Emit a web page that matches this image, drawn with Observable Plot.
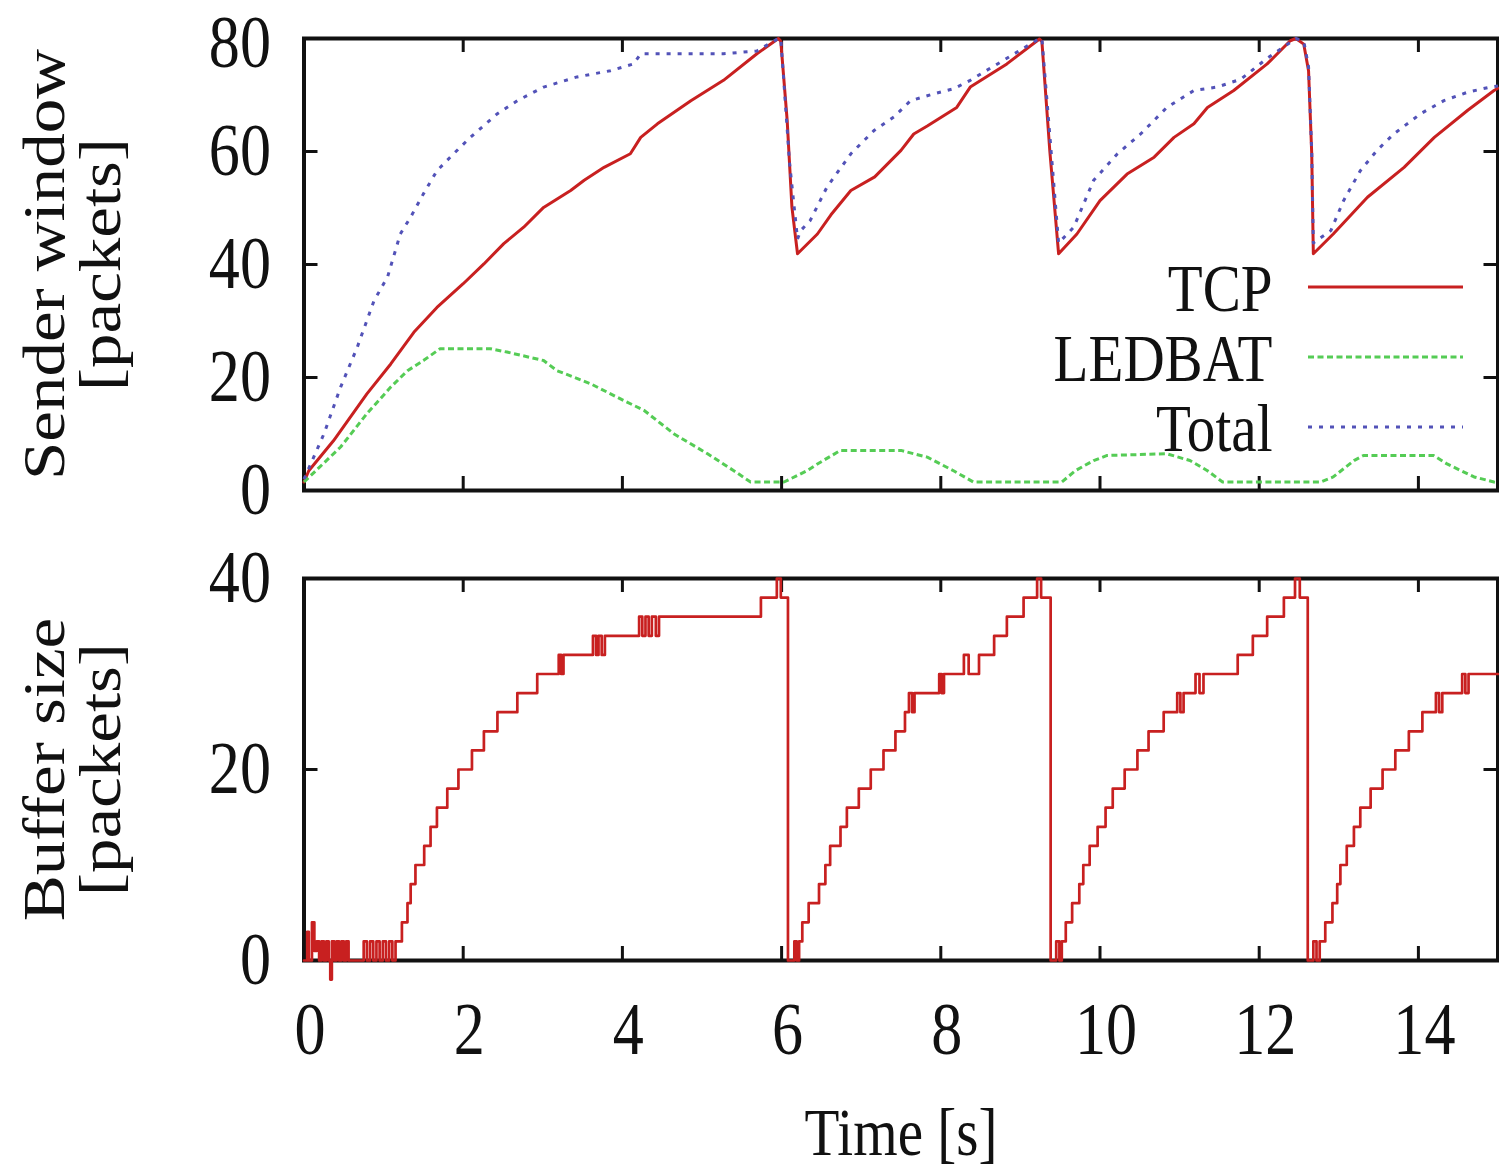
<!DOCTYPE html>
<html><head><meta charset="utf-8">
<script src="https://cdn.jsdelivr.net/npm/d3@7"></script>
<script src="https://cdn.jsdelivr.net/npm/@observablehq/plot@0.6"></script>
<style>body{margin:0;background:#fff} #chart svg{display:block}</style>
</head><body><div id="chart"></div>
<script>
// ---------- data ----------
const xTickValues = [0, 2, 4, 6, 8, 10, 12, 14];
const windowTicks = [0, 20, 40, 60, 80];
const bufferTicks = [0, 20, 40];
const seriesNames = ["TCP", "LEDBAT", "Total"];

const tcpT = [0, 0.06, 0.37, 0.79, 1.09, 1.38, 1.67, 2.0, 2.26, 2.51, 2.76, 3.01, 3.35, 3.52, 3.77, 4.10, 4.23, 4.44, 4.86, 5.27, 5.69, 5.96, 5.99, 6.07, 6.13, 6.2, 6.45, 6.62, 6.87, 7.17, 7.5, 7.66, 7.83, 8.2, 8.37, 8.83, 9.24, 9.27, 9.37, 9.48, 9.71, 10.0, 10.34, 10.68, 10.93, 11.18, 11.35, 11.68, 12.1, 12.39, 12.46, 12.56, 12.62, 12.66, 12.68, 12.93, 13.36, 13.82, 14.2, 14.62, 14.95, 15];
const tcpV = [1.5, 3.5, 8.8, 17.1, 22.4, 28.0, 32.4, 36.6, 40.1, 43.7, 46.6, 50.1, 53.1, 54.9, 57.2, 59.6, 62.5, 64.9, 69.0, 72.6, 77.3, 80, 79.5, 65.5, 50.1, 41.9, 45.4, 48.8, 53.1, 55.5, 60.2, 63.1, 64.5, 67.8, 71.4, 75.5, 79.9, 79.5, 60, 41.9, 45.4, 51.3, 56.0, 59.0, 62.5, 64.9, 67.8, 70.8, 75.5, 79.6, 80, 79, 74.3, 59.6, 41.9, 45.4, 51.9, 57.2, 62.5, 67.3, 70.8, 71.2];

const ledT = [0, 0.46, 0.79, 1.09, 1.3, 1.5, 1.71, 2.34, 2.55, 3.01, 3.18, 3.6, 4.02, 4.27, 4.65, 5.07, 5.4, 5.61, 6.03, 6.32, 6.45, 6.74, 7.5, 7.66, 7.83, 8.16, 8.41, 9.52, 9.69, 9.92, 10.09, 10.84, 11.13, 11.35, 11.54, 12.77, 12.93, 13.19, 13.31, 14.19, 14.36, 14.7, 14.95, 15];
const ledV = [1.5, 7.7, 13.6, 18.3, 21.2, 23, 25.1, 25.1, 24.5, 23, 21.2, 18.9, 15.9, 14.2, 10, 6.5, 3.5, 1.5, 1.5, 3.5, 4.7, 7.1, 7.1, 6.5, 5.9, 3.5, 1.5, 1.5, 3.5, 5.3, 6.2, 6.5, 5.3, 3.5, 1.5, 1.5, 2.4, 5.3, 6.2, 6.2, 4.7, 2.4, 1.5, 1.4];

const totT = [0, 0.25, 0.46, 0.67, 0.88, 1.05, 1.21, 1.34, 1.5, 1.67, 1.88, 2.09, 2.43, 2.68, 3.01, 3.43, 3.85, 4.14, 4.23, 5.27, 5.69, 5.96, 5.99, 6.1, 6.2, 6.24, 6.36, 6.57, 6.87, 7.16, 7.41, 7.62, 7.91, 8.16, 8.37, 8.83, 9.24, 9.27, 9.48, 9.67, 9.92, 10.22, 10.51, 10.84, 11.18, 11.47, 11.77, 12.1, 12.46, 12.56, 12.62, 12.66, 12.68, 12.9, 13.06, 13.27, 13.48, 13.69, 14.03, 14.32, 14.62, 14.9, 15];
const totV = [2, 10, 18.3, 25.4, 33.6, 37.8, 45.4, 48.4, 52.5, 56.6, 59.6, 62.5, 66.7, 69, 71.4, 73.2, 74.3, 75.5, 77.3, 77.3, 77.8, 80, 80, 58, 44.5, 46, 47.8, 53.7, 59.6, 63.7, 66.1, 69, 70.2, 71.1, 72.6, 76.5, 80, 80, 43.8, 46.6, 54.9, 59.6, 63.1, 67.8, 70.8, 71.4, 72.8, 76.5, 80, 79.5, 75, 60, 43.8, 46, 51.3, 56.6, 60.2, 63.1, 66.7, 69, 70.5, 71.4, 71.6];

const bufT = [0, 0.04, 0.06, 0.10, 0.13, 0.16, 0.19, 0.22, 0.25, 0.28, 0.31, 0.33, 0.35, 0.38, 0.41, 0.44, 0.47, 0.50, 0.53, 0.56, 0.58,
  0.75, 0.79, 0.83, 0.87, 0.91, 0.95, 0.99, 1.03, 1.07, 1.11, 1.15, 1.19,
  1.23, 1.30, 1.34, 1.40, 1.51, 1.59, 1.67, 1.80, 1.94, 2.11, 2.26, 2.43, 2.68, 2.93, 3.20, 3.23, 3.26, 3.63, 3.67, 3.70, 3.74, 3.78, 4.21, 4.25, 4.29, 4.33, 4.37, 4.42, 4.46, 5.74, 5.94, 5.99, 6.08,
  6.16, 6.19, 6.22, 6.26, 6.34, 6.47, 6.55, 6.61, 6.74, 6.82, 6.97, 7.12, 7.28, 7.43, 7.55, 7.60, 7.64, 7.67, 7.98, 8.01, 8.04, 8.29, 8.35, 8.48, 8.67, 8.83, 9.04, 9.21, 9.26, 9.38,
  9.45, 9.49, 9.52, 9.57, 9.65, 9.74, 9.79, 9.87, 9.97, 10.07, 10.16, 10.31, 10.47, 10.61, 10.80, 10.97, 11.01, 11.05, 11.20, 11.25, 11.30, 11.73, 11.92, 12.10, 12.31, 12.45, 12.51, 12.61,
  12.68, 12.72, 12.76, 12.83, 12.92, 12.98, 13.02, 13.10, 13.19, 13.27, 13.40, 13.55, 13.71, 13.88, 14.05, 14.22, 14.26, 14.30, 14.55, 14.59, 14.63, 15];
const bufV = [0, 3, 0, 4, 1, 2, 0, 2, 0, 2, 0, -2, 2, 0, 2, 0, 2, 0, 2, 0, 0,
  2, 0, 2, 0, 2, 0, 2, 0, 2, 0, 2, 2,
  4, 6, 8, 10, 12, 14, 16, 18, 20, 22, 24, 26, 28, 30, 32, 30, 32, 34, 32, 34, 32, 34, 36, 34, 36, 34, 36, 34, 36, 38, 40, 38, 0,
  2, 0, 2, 4, 6, 8, 10, 12, 14, 16, 18, 20, 22, 24, 26, 28, 26, 28, 30, 28, 30, 32, 30, 32, 34, 36, 38, 40, 38, 0,
  2, 0, 2, 4, 6, 8, 10, 12, 14, 16, 18, 20, 22, 24, 26, 28, 26, 28, 30, 28, 30, 32, 34, 36, 38, 40, 38, 0,
  2, 0, 2, 4, 6, 8, 10, 12, 14, 16, 18, 20, 22, 24, 26, 28, 26, 28, 30, 28, 30, 30];

// ---------- styling ----------
const FONT = "'Liberation Serif', 'Times New Roman', serif";
const RED = "#c82020", GREEN = "#55cc55", BLUE = "#5252b8";
const seriesColors = [RED, GREEN, BLUE];
const seriesDash = [null, "6,3.5", "4,7"];
const W = 1499, ML = 303.5, MR = 1.5, TL = 14, FW = W - ML - MR;
const INK = "#111";

const rows = (T, V) => T.map((t, i) => ({t, v: V[i]}));

function edgeTicks(yt, fh) {
  const o = {stroke: INK, strokeWidth: 3};
  return [
    Plot.tickX(xTickValues, {x: d => d, insetBottom: fh - TL, ...o}),
    Plot.tickX(xTickValues, {x: d => d, insetTop: fh - TL, ...o}),
    Plot.tickY(yt, {y: d => d, insetRight: FW - TL, ...o}),
    Plot.tickY(yt, {y: d => d, insetLeft: FW - TL, ...o})
  ];
}
function yTitle(l1, l2) {
  const o = {frameAnchor: "left", rotate: -90, lineAnchor: "bottom", textAnchor: "middle", fontSize: 69, fill: INK};
  return [
    Plot.text([l1], {text: d => d, dx: 63 - ML, ...o}),
    Plot.text([l2], {text: d => d, dx: 119 - ML, ...o})
  ];
}
function legendMark(index, scales, values, dims) {
  const g = d3.create("svg:g");
  const right = dims.width - dims.marginRight;
  seriesNames.forEach((name, i) => {
    const ly = dims.marginTop + 249 + i * 70;
    const ln = g.append("line").attr("x1", right - 189.5).attr("x2", right - 34.5)
      .attr("y1", ly).attr("y2", ly).attr("stroke", seriesColors[i]).attr("stroke-width", 3);
    if (seriesDash[i]) ln.attr("stroke-dasharray", seriesDash[i]);
    g.append("text").attr("transform", `translate(${right - 225},${ly + 24})`)
      .attr("text-anchor", "end").attr("font-size", 68).attr("fill", INK).text(name);
  });
  return g.node();
}

const H1 = 530, MT1 = 38, MB1 = 40, FH1 = H1 - MT1 - MB1;
const topMax = windowTicks[windowTicks.length - 1];
const p1 = Plot.plot({
  width: W, height: H1, marginLeft: ML, marginRight: MR, marginTop: MT1, marginBottom: MB1,
  style: {fontFamily: FONT, fontSize: "74px", background: "white", color: INK},
  x: {domain: [0, 15], axis: null},
  y: {domain: [0, 80]},
  marks: [
    Plot.frame({stroke: INK, strokeWidth: 4}),
    ...edgeTicks(windowTicks, FH1),
    Plot.line(rows(tcpT, tcpV), {x: "t", y: "v", stroke: RED, strokeWidth: 3}),
    Plot.line(rows(ledT, ledV), {x: "t", y: "v", stroke: GREEN, strokeWidth: 3, strokeDasharray: seriesDash[1], strokeLinecap: "butt"}),
    Plot.line(rows(totT, totV), {x: "t", y: "v", stroke: BLUE, strokeWidth: 3, strokeDasharray: seriesDash[2], strokeLinecap: "butt"}),
    Plot.axisY(windowTicks.filter(d => d < topMax), {tickSize: 0, tickPadding: 33, label: null, fontSize: 74}),
    Plot.axisY([topMax], {tickSize: 0, tickPadding: 33, label: null, fontSize: 74, dy: 5}),
    ...yTitle("Sender window", "[packets]"),
    legendMark
  ]
});

const H2 = 1171 - H1, MT2 = 48, MB2 = 211, FH2 = H2 - MT2 - MB2;
const p2 = Plot.plot({
  width: W, height: H2, marginLeft: ML, marginRight: MR, marginTop: MT2, marginBottom: MB2,
  style: {fontFamily: FONT, fontSize: "74px", background: "white", color: INK},
  x: {domain: [0, 15]},
  y: {domain: [0, 40]},
  marks: [
    Plot.frame({stroke: INK, strokeWidth: 4}),
    ...edgeTicks(bufferTicks, FH2),
    Plot.line(rows(bufT, bufV), {x: "t", y: "v", curve: "step-after", stroke: RED, strokeWidth: 2.7}),
    Plot.axisY(bufferTicks, {tickSize: 0, tickPadding: 33, label: null, fontSize: 74}),
    Plot.axisX(xTickValues, {tickSize: 0, tickPadding: 41, dx: 6, label: null, fontSize: 74}),
    Plot.text(["Time [s]"], {text: d => d, frameAnchor: "bottom", dy: 194, lineAnchor: "bottom", fontSize: 68, fill: INK}),
    ...yTitle("Buffer size", "[packets]")
  ]
});

function squeeze(svg) {
  d3.select(svg).selectAll("text").each(function () {
    const el = d3.select(this);
    const tr = el.attr("transform") || "";
    if (tr.includes("rotate")) el.attr("transform", tr + " scale(1,0.87)");
    else el.attr("transform", tr + " scale(0.84,1)");
  });
}
squeeze(p1); squeeze(p2);
document.getElementById("chart").append(p1, p2);
</script>
</body></html>
